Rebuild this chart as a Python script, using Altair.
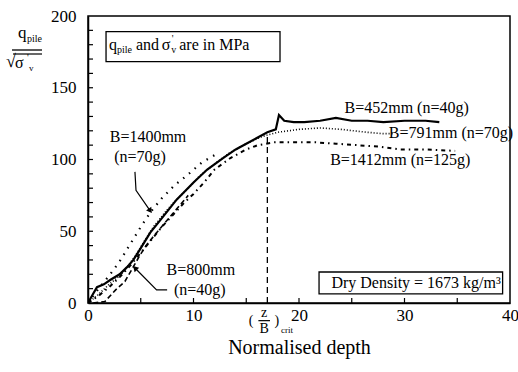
import altair as alt
import pandas as pd

# ---------------- data ----------------
# B=452mm (n=40g) solid
x452 = [0, 0.3, 0.85, 1.5, 2.1, 3.0, 3.7, 4.3, 4.9, 5.9, 7.1, 8.4, 10, 11.3, 12.8, 14, 15, 16, 17, 17.8, 18.1, 18.6, 19.5, 20.5, 22, 23.5, 25, 26.5, 28, 30, 32, 33.3]
y452 = [0, 4, 11, 13, 16, 20, 25, 30, 37, 49, 60, 72, 84, 93, 101, 107, 111, 115, 119, 121, 131, 127, 126, 126, 127, 129, 127, 127, 126, 127, 127, 126]
# B=791mm (n=70g) fine dots
x791 = [0, 1, 2, 3, 3.5, 4.5, 5.5, 6.2, 7.5, 8.5, 9.4, 10.5, 12, 13.5, 15, 16.5, 18, 20, 22, 24, 26.4, 28, 29]
y791 = [0, 6, 13, 19, 23, 33, 45, 53, 65, 73, 79, 88, 97, 105, 111, 116, 119, 121, 122, 121, 119, 118, 118]
# B=1400mm (n=70g) sparse dots
x1400 = [0, 1, 2, 3, 4, 5, 6, 7, 8.2, 9.4, 10.8, 12]
y1400 = [0, 10, 19, 29, 41, 53, 64, 73, 82, 89, 98, 103]
# B=800mm (n=40g) dashed
x800 = [0.5, 1.6, 2.6, 3.5, 4.2, 4.9, 5.5, 6.5, 8, 9.5]
y800 = [0, 1, 9, 15, 24, 33, 40, 49, 62, 75]
# B=1412mm (n=125g) dash-dot
x1412 = [0, 1, 2, 3, 4, 5, 6, 7, 8, 9, 10, 11, 12, 13.5, 15, 16.1, 17.7, 19.2, 21.5, 23.5, 25.5, 27.5, 29.6, 32, 34.8]
y1412 = [0, 5, 11, 18, 26, 35, 44, 53, 61, 69, 76, 84, 93, 101, 107, 110, 112, 112, 112, 111, 110, 109, 107, 107, 106]

crit_x = 17.0
crit_top = 119

x_labels = [0, 10, 20, 30, 40]
y_labels = [0, 50, 100, 150, 200]
x_minor = [5, 10, 15, 20, 25, 30, 35]
y_minor = [10, 20, 30, 40, 50, 60, 70, 80, 90, 100, 110, 120, 130, 140, 150, 160, 170, 180, 190]

W, H = 422, 287
FONT = "Liberation Serif"

xscale = alt.Scale(domain=[0, 40], nice=False)
yscale = alt.Scale(domain=[0, 200], nice=False)
xaxis = alt.Axis(values=x_labels, ticks=False, grid=False, domainColor="black", domainWidth=1.5,
                 labelFont=FONT, labelFontSize=17, labelColor="black",
                 labelPadding=4, labelFlush=False, title="Normalised depth", titleFont=FONT,
                 titleFontSize=20, titleFontWeight="normal", titleColor="black", titlePadding=14)
yaxis = alt.Axis(values=y_labels, ticks=False, grid=False, domainColor="black", domainWidth=1.5,
                 labelFont=FONT, labelFontSize=17, labelColor="black",
                 labelPadding=12, title=None)


def X(f="x"):
    return alt.X(f + ":Q", scale=xscale, axis=xaxis)


def Y(f="y"):
    return alt.Y(f + ":Q", scale=yscale, axis=yaxis)


def series(xs, ys, width, dash=None):
    df = pd.DataFrame({"x": xs, "y": ys, "i": range(len(xs))})
    kw = dict(color="black", strokeWidth=width, clip=True)
    if dash:
        kw["strokeDash"] = dash
    return alt.Chart(df).mark_line(**kw).encode(x=X(), y=Y(), order="i:Q")


layers = []
layers.append(series(x452, y452, 2.2))
layers.append(series(x791, y791, 1.6, [1, 2]))
layers.append(series(x1400, y1400, 2.2, [1.5, 6]))
layers.append(series(x800, y800, 1.6, [5, 3]))
layers.append(series(x1412, y1412, 2.0, [4, 4, 1.5, 4]))

# critical depth dashed line
layers.append(alt.Chart(pd.DataFrame({"x": [crit_x], "y": [0], "y2": [crit_top]}))
              .mark_rule(color="black", strokeDash=[6, 4], strokeWidth=1.3)
              .encode(x=X(), y=Y(), y2="y2:Q"))

# inward ticks
layers.append(alt.Chart(pd.DataFrame({"x": x_minor})).mark_rule(color="black", strokeWidth=1.2)
              .encode(x=X(), y=alt.value(H), y2=alt.value(H - 5)))
layers.append(alt.Chart(pd.DataFrame({"y": y_minor})).mark_rule(color="black", strokeWidth=1.2)
              .encode(y=Y(), x=alt.value(0), x2=alt.value(5)))

# boxes
boxes = pd.DataFrame({"x": [1.71, 21.9], "x2": [18.2, 39.3], "y": [189.1, 21.6], "y2": [168.2, 6.3]})
layers.append(alt.Chart(boxes).mark_rect(fill="white", stroke="black", strokeWidth=1.3)
              .encode(x=X(), x2="x2:Q", y=Y(), y2="y2:Q"))


def text(df, size, align="center", baseline="middle"):
    kw = dict(font=FONT, fontSize=size, align=align, baseline=baseline, color="black")
    return alt.Chart(df).mark_text(**kw).encode(x=X(), y=Y(), text="t:N")


# centred annotation labels
ann = pd.DataFrame({
    "x": [5.69, 4.93, 10.7, 10.6, 30.2, 34.4, 29.6],
    "y": [115.8, 101.9, 23, 9.1, 136.1, 118.6, 99.8],
    "t": ["B=1400mm", "(n=70g)", "B=800mm", "(n=40g)", "B=452mm (n=40g)", "B=791mm (n=70g)", "B=1412mm (n=125g)"],
})
layers.append(text(ann, 16))
layers.append(text(pd.DataFrame({"x": [31.1], "y": [14], "t": ["Dry Density = 1673 kg/m³"]}), 16))

# "q_pile and σ'_v are in MPa"
big = pd.DataFrame({"x": [1.99, 4.55, 7.0, 8.65], "y": [180, 180, 180, 180], "t": ["q", "and", "σ", "are in MPa"]})
layers.append(text(big, 16, align="left"))
small = pd.DataFrame({"x": [2.75, 7.9], "y": [176.5, 176.0], "t": ["pile", "v"]})
layers.append(text(small, 10, align="left"))
layers.append(text(pd.DataFrame({"x": [7.95], "y": [184], "t": ["'"]}), 10, align="left"))

# (z/B)crit label below axis
zb = pd.DataFrame({"x": [15.45, 16.7, 16.7, 17.9], "y": [-12.5, -7.0, -17.8, -12.5], "t": ["(", "z", "B", ")"]})
layers.append(text(zb, 14))
layers.append(text(pd.DataFrame({"x": [18.3], "y": [-19.0], "t": ["crit"]}), 9, align="left"))
layers.append(alt.Chart(pd.DataFrame({"x": [16.15], "x2": [17.25], "y": [-12.3]}))
              .mark_rule(color="black", strokeWidth=1.2).encode(x=X(), x2="x2:Q", y=Y()))

# arrows
arr1 = pd.DataFrame({"x": [4.45, 4.55, 5.9], "y": [91.4, 78.5, 64.2], "i": [0, 1, 2]})
arr2 = pd.DataFrame({"x": [7.5, 6.5, 4.45], "y": [9.1, 9.1, 24.4], "i": [0, 1, 2]})
for a in (arr1, arr2):
    layers.append(alt.Chart(a).mark_line(color="black", strokeWidth=1.2).encode(x=X(), y=Y(), order="i:Q"))
heads = pd.DataFrame({"x": [5.9, 4.45], "y": [64.2, 24.4], "a": [145, 315]})
layers.append(alt.Chart(heads).mark_point(shape="triangle-up", filled=True, color="black", size=40, opacity=1)
              .encode(x=X(), y=Y(), angle=alt.Angle("a:Q", scale=None)))


# y-axis title as a fraction (pixel positions relative to plot area)
def ptext(t, x, y, size, align="left"):
    return alt.Chart(pd.DataFrame({"t": [t]})).mark_text(font=FONT, fontSize=size, align=align, baseline="middle",
                                                         color="black").encode(
        x=alt.value(x), y=alt.value(y), text="t:N")


layers.append(ptext("q", -70, 17, 17))
layers.append(ptext("pile", -61, 23, 10))
layers.append(ptext("√", -82, 46, 18))
layers.append(ptext("σ", -73, 47, 16))
layers.append(ptext("'", -61, 42, 10))
layers.append(ptext("v", -59, 52, 9))
layers.append(alt.Chart(pd.DataFrame({"a": [0]})).mark_rule(color="black", strokeWidth=1.3)
              .encode(x=alt.value(-76), x2=alt.value(-46), y=alt.value(34)))
layers.append(alt.Chart(pd.DataFrame({"a": [0]})).mark_rule(color="black", strokeWidth=1.2)
              .encode(x=alt.value(-75), x2=alt.value(-46), y=alt.value(38)))

chart = alt.layer(*layers).properties(
    width=W, height=H, autosize="none",
    padding={"left": 88, "top": 16, "right": 8, "bottom": 69},
    background="white",
).configure_view(stroke="black", strokeWidth=1.5).configure_text(font=FONT).configure_axis(labelFont=FONT)

chart.save("out.html", embed_options={"renderer": "svg", "actions": False})
